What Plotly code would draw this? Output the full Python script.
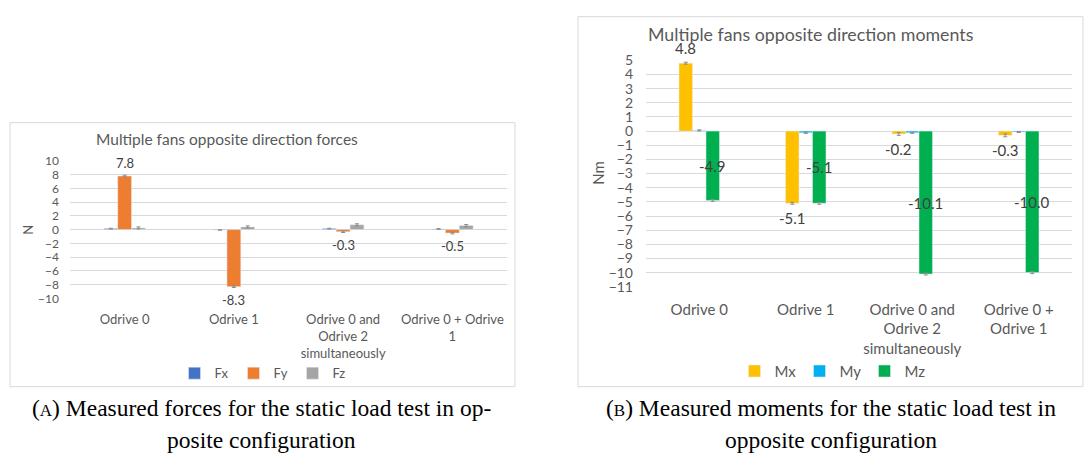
import plotly.graph_objects as go

W, H = 1085, 465

# ---------------- data ----------------
force_categories = ["Odrive 0", "Odrive 1", "Odrive 0 and<br>Odrive 2<br>simultaneously", "Odrive 0 + Odrive<br>1"]
fx = [0.15, -0.05, 0.15, 0.10]
fy = [7.8, -8.3, -0.3, -0.5]
fz = [0.25, 0.40, 0.70, 0.60]
fx_err = [0.05, 0.03, 0.05, 0.05]
fy_err = [0.12, 0.12, 0.12, 0.12]
fz_err = [0.15, 0.15, 0.15, 0.15]

moment_categories = ["Odrive 0", "Odrive 1", "Odrive 0 and<br>Odrive 2<br>simultaneously", "Odrive 0 +<br>Odrive 1"]
mx = [4.8, -5.1, -0.2, -0.3]
my = [0.05, -0.12, -0.12, -0.06]
mz = [-4.9, -5.1, -10.1, -10.0]
mx_err = [0.07, 0.07, 0.1, 0.1]
my_err = [0.04, 0.04, 0.04, 0.04]
mz_err = [0.07, 0.07, 0.07, 0.07]

force_ticks = [-10, -8, -6, -4, -2, 0, 2, 4, 6, 8, 10]
moment_ticks = list(range(-11, 6))

# ---------------- helpers ----------------
def px_x(x):
    return x / W

def px_y(y):
    return 1 - y / H

GRID = "#d9d9d9"
TXT = "#595959"
LBL = "#404040"
FONT = "Lato"
SERIF = "Liberation Serif"

fig = go.Figure()

def err(vals):
    return dict(type="data", array=vals, visible=True, color="#8c8c8c", thickness=1, width=2)

# forces
fig.add_trace(go.Bar(x=force_categories, y=fx, name="Fx", marker_color="#4472C4",
                     error_y=err(fx_err), xaxis="x", yaxis="y", legend="legend"))
fig.add_trace(go.Bar(x=force_categories, y=fy, name="Fy", marker_color="#ED7D31",
                     error_y=err(fy_err), xaxis="x", yaxis="y", legend="legend"))
fig.add_trace(go.Bar(x=force_categories, y=fz, name="Fz", marker_color="#A5A5A5",
                     error_y=err(fz_err), xaxis="x", yaxis="y", legend="legend"))

# moments
fig.add_trace(go.Bar(x=moment_categories, y=mx, name="Mx", marker_color="#FFC000",
                     error_y=err(mx_err), xaxis="x2", yaxis="y2", legend="legend2"))
fig.add_trace(go.Bar(x=moment_categories, y=my, name="My", marker_color="#00B0F0",
                     error_y=err(my_err), xaxis="x2", yaxis="y2", legend="legend2"))
fig.add_trace(go.Bar(x=moment_categories, y=mz, name="Mz", marker_color="#00B050",
                     error_y=err(mz_err), xaxis="x2", yaxis="y2", legend="legend2"))

# data labels (Excel style): Fy and Mx beyond the bar end, Mz centred on the bar
def end_labels(cats, vals, xref, yref, xshift, size, gap):
    return [
        dict(text=f"{v:.1f}", x=c, y=v, xref=xref, yref=yref, xshift=xshift,
             yshift=gap if v >= 0 else -gap, showarrow=False,
             xanchor="center", yanchor="bottom" if v >= 0 else "top",
             font=dict(family=FONT, size=size, color=LBL))
        for c, v in zip(cats, vals)
    ]

fy_labels = end_labels(force_categories, fy, "x", "y", 0, 13, 3)
mx_labels = end_labels(moment_categories, mx, "x2", "y2", -13.3, 15, 4)
mz_labels = [
    dict(text=f"{v:.1f}", x=c, y=v / 2, xref="x2", yref="y2", xshift=13.3,
         showarrow=False, xanchor="center", yanchor="middle",
         font=dict(family=FONT, size=15, color=LBL))
    for c, v in zip(moment_categories, mz)
]

fig.update_layout(
    width=W, height=H,
    margin=dict(l=0, r=0, t=0, b=0),
    paper_bgcolor="white", plot_bgcolor="white",
    barmode="group", bargap=0.62, bargroupgap=0,
    font=dict(family=FONT, color=TXT),
    showlegend=True,
    xaxis=dict(domain=[px_x(70), px_x(507)], anchor="y", showgrid=False,
               tickfont=dict(size=13, color=TXT), ticks="", showline=False,
               ticklabelstandoff=12),
    yaxis=dict(domain=[px_y(300.3), px_y(157.7)], anchor="x", range=[-10, 10],
               tickvals=force_ticks, gridcolor=GRID, gridwidth=1,
               zeroline=True, zerolinecolor=GRID, zerolinewidth=1,
               tickfont=dict(size=12, color=TXT), ticklabelstandoff=10),
    xaxis2=dict(domain=[px_x(646), px_x(1072)], anchor="y2", showgrid=False,
                tickfont=dict(size=15, color=TXT), ticks="", showline=False,
                ticklabelstandoff=12),
    yaxis2=dict(domain=[px_y(288.3), px_y(53.3)], anchor="x2", range=[-11, 5],
                tickvals=moment_ticks, gridcolor=GRID, gridwidth=1,
                zeroline=True, zerolinecolor=GRID, zerolinewidth=1,
                tickfont=dict(size=14, color=TXT), ticklabelstandoff=12),
    legend=dict(orientation="h", x=px_x(263), xanchor="center", y=px_y(378), yanchor="middle",
                font=dict(size=13, color=TXT), itemwidth=30, entrywidth=14, entrywidthmode="pixels",
                bgcolor="rgba(0,0,0,0)"),
    legend2=dict(orientation="h", x=px_x(832), xanchor="center", y=px_y(376), yanchor="middle",
                 font=dict(size=15, color=TXT), itemwidth=30, entrywidth=20, entrywidthmode="pixels",
                 bgcolor="rgba(0,0,0,0)"),
    shapes=[
        dict(type="rect", xref="paper", yref="paper", x0=px_x(10), x1=px_x(515),
             y0=px_y(392), y1=px_y(118), line=dict(color=GRID, width=1), layer="below"),
        dict(type="rect", xref="paper", yref="paper", x0=px_x(578), x1=px_x(1083),
             y0=px_y(392), y1=px_y(8), line=dict(color=GRID, width=1), layer="below"),
    ],
    annotations=fy_labels + mx_labels + mz_labels + [
        dict(text="Multiple fans opposite direction forces", xref="paper", yref="paper",
             x=px_x(227), y=px_y(135), xanchor="center", yanchor="middle", showarrow=False,
             font=dict(size=15.5, color=TXT, family=FONT)),
        dict(text="Multiple fans opposite direction moments", xref="paper", yref="paper",
             x=px_x(810), y=px_y(26), xanchor="center", yanchor="middle", showarrow=False,
             font=dict(size=17.8, color=TXT, family=FONT)),
        dict(text="N", xref="paper", yref="paper", x=px_x(28), y=px_y(229),
             xanchor="center", yanchor="middle", showarrow=False, textangle=-90,
             font=dict(size=13, color=TXT, family=FONT)),
        dict(text="Nm", xref="paper", yref="paper", x=px_x(598), y=px_y(170),
             xanchor="center", yanchor="middle", showarrow=False, textangle=-90,
             font=dict(size=15, color=TXT, family=FONT)),
        dict(text="(<span style='font-size:17px'>A</span>) Measured forces for the static load test in op-",
             xref="paper", yref="paper", x=px_x(261), y=px_y(414), xanchor="center", yanchor="middle",
             showarrow=False, font=dict(size=23.5, color="black", family=SERIF)),
        dict(text="posite configuration", xref="paper", yref="paper", x=px_x(261), y=px_y(447),
             xanchor="center", yanchor="middle", showarrow=False,
             font=dict(size=23.5, color="black", family=SERIF)),
        dict(text="(<span style='font-size:17px'>B</span>) Measured moments for the static load test in",
             xref="paper", yref="paper", x=px_x(831), y=px_y(414), xanchor="center", yanchor="middle",
             showarrow=False, font=dict(size=23.5, color="black", family=SERIF)),
        dict(text="opposite configuration", xref="paper", yref="paper", x=px_x(831), y=px_y(447),
             xanchor="center", yanchor="middle", showarrow=False,
             font=dict(size=23.5, color="black", family=SERIF)),
    ],
)

fig.write_html("out.html", config={"displayModeBar": False},
               post_script="document.body.style.margin='0';")
